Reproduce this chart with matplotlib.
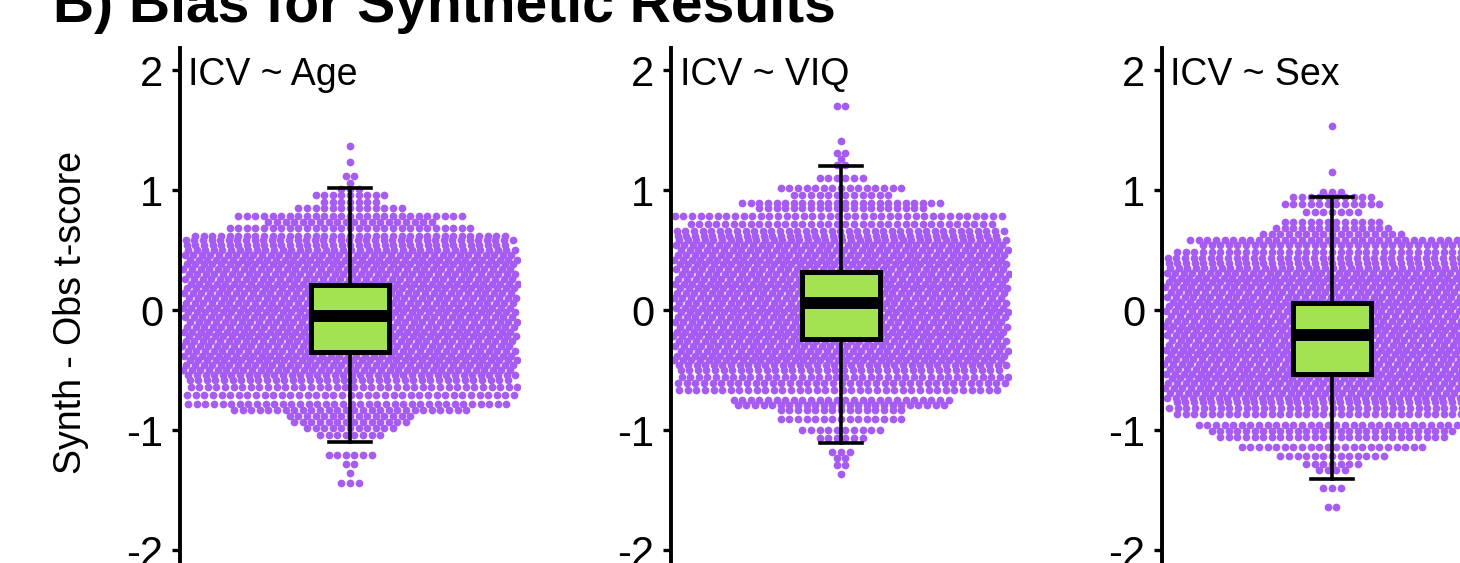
import matplotlib
matplotlib.use("Agg")
import matplotlib.pyplot as plt
import numpy as np

plt.rcParams['font.family'] = ['Liberation Sans', 'DejaVu Sans']

# panel titles
panels = ["ICV ~ Age", "ICV ~ VIQ", "ICV ~ Sex"]

# swarm rows: y level of each row and how many dots in it
age_y = [1.37, 1.23, 1.12, 1.06, 1.01, 0.96, 0.90, 0.85, 0.78, 0.73, 0.68, 0.62, 0.58,
         0.54, 0.50, 0.46, 0.42, 0.38, 0.34, 0.30, 0.26, 0.22, 0.18, 0.14, 0.10, 0.06, 0.02,
         -0.02, -0.06, -0.10, -0.14, -0.18, -0.22, -0.26, -0.30, -0.34, -0.38, -0.42, -0.46,
         -0.50, -0.54, -0.58,
         -0.64, -0.71, -0.78, -0.83, -0.88, -0.93, -0.98, -1.04, -1.21, -1.28, -1.36, -1.44]
age_n = [1, 1, 2, 1, 3, 9, 7, 13, 27, 20, 29, 37, 39,
         38, 39, 39, 39, 39, 39, 39, 39, 39, 39, 39, 39, 39, 39,
         39, 39, 39, 39, 39, 39, 39, 39, 39, 39, 39, 39,
         39, 39, 38,
         39, 39, 38, 28, 15, 14, 11, 8, 6, 2, 1, 3]

viq_y = [1.70, 1.41, 1.31, 1.26, 1.21, 1.10, 1.02, 0.96, 0.89, 0.85, 0.78, 0.72, 0.66,
         0.62, 0.58, 0.54, 0.50, 0.46, 0.42, 0.38, 0.34, 0.30, 0.26, 0.22, 0.18, 0.14, 0.10,
         0.06, 0.02, -0.02, -0.06, -0.10, -0.14, -0.18, -0.22, -0.26, -0.30, -0.34, -0.38,
         -0.42, -0.46, -0.50,
         -0.56, -0.61, -0.67, -0.75, -0.79, -0.83, -0.91, -1.00, -1.07, -1.18, -1.23, -1.29, -1.37]
viq_n = [2, 1, 2, 1, 2, 6, 15, 12, 24, 20, 39, 36, 39,
         38, 39, 39, 39, 39, 39, 39, 39, 39, 39, 39, 39, 39, 39,
         39, 39, 39, 39, 39, 39, 39, 39, 39, 39, 39, 39,
         39, 39, 38,
         39, 39, 38, 26, 25, 15, 15, 10, 6, 3, 2, 2, 1]

sex_y = [1.53, 1.15, 0.98, 0.94, 0.88, 0.82, 0.73, 0.68, 0.63, 0.58, 0.54, 0.48, 0.43,
         0.39, 0.35, 0.31, 0.27, 0.23, 0.19, 0.15, 0.11, 0.07, 0.03, -0.01, -0.05, -0.09,
         -0.13, -0.17, -0.21, -0.25, -0.29, -0.33, -0.37, -0.41, -0.45, -0.49, -0.53, -0.57,
         -0.61, -0.65, -0.69, -0.73, -0.77,
         -0.82, -0.87, -0.96, -1.01, -1.06, -1.14, -1.22, -1.28, -1.33, -1.48, -1.64]
sex_n = [1, 1, 3, 10, 12, 7, 12, 14, 17, 34, 31, 37, 39,
         38, 39, 39, 39, 39, 39, 39, 39, 39, 39, 39, 39, 39,
         39, 39, 39, 39, 39, 39, 39, 39, 39, 39, 39, 39,
         39, 39, 39, 39, 38,
         39, 37, 32, 29, 27, 22, 13, 7, 4, 3, 2]

# box stats: whisker low, Q1, median, Q3, whisker high
age_box = [-1.10, -0.35, -0.05, 0.21, 1.02]
viq_box = [-1.11, -0.24, 0.06, 0.32, 1.20]
sex_box = [-1.41, -0.53, -0.21, 0.06, 0.94]

rows = [(age_y, age_n), (viq_y, viq_n), (sex_y, sex_n)]
boxes = [age_box, viq_box, sex_box]

purple = '#A65CF3'
green = '#A3E352'

W, H = 1460, 563
fig = plt.figure(figsize=(W / 100, H / 100), dpi=100)

ymin, ymax = -2.3, 2.18
px_per_unit = 120
ax_h = (ymax - ymin) * px_per_unit
ax_bottom = 550 + (-2 - ymin) * px_per_unit  # pixel row of ylim bottom
lefts = [180, 671, 1162]
ax_w = 340

dx = 8.6 / 170  # dot spacing in data units

for i in range(3):
    ax = fig.add_axes([lefts[i] / W, (H - ax_bottom) / H, ax_w / W, ax_h / H])
    ys, ns = rows[i]
    xs, yy = [], []
    for k, (y, n) in enumerate(zip(ys, ns)):
        off = (np.arange(n) - (n - 1) / 2) * dx
        if n >= 38:
            # stagger full rows so they don't line up in columns
            off = off + ((k * 0.618) % 1 - 0.5) * dx
        xs.extend(1 + off)
        yy.extend([y] * n)
    ax.scatter(xs, yy, s=31, color=purple, linewidths=0, zorder=1)

    lo, q1, med, q3, hi = boxes[i]
    stats = [dict(whislo=lo, q1=q1, med=med, q3=q3, whishi=hi)]
    ax.bxp(stats, positions=[1], widths=0.46, showfliers=False, patch_artist=True,
           capwidths=0.25,
           boxprops=dict(facecolor=green, edgecolor='black', linewidth=3.6),
           medianprops=dict(color='black', linewidth=8.6, solid_capstyle='butt'),
           whiskerprops=dict(color='black', linewidth=2.6),
           capprops=dict(color='black', linewidth=2.6))
    for art in ax.patches + ax.lines:
        art.set_zorder(3)

    ax.set_xlim(0, 2)
    ax.set_ylim(ymin, ymax)
    ax.set_yticks([-2, -1, 0, 1, 2])
    ax.set_yticklabels(['-2', '-1', '0', '1', '2'])
    ax.set_xticks([])
    for s in ['top', 'right', 'bottom']:
        ax.spines[s].set_visible(False)
    ax.spines['left'].set_linewidth(2.8)
    ax.tick_params(axis='y', length=6, width=2.4, labelsize=30, pad=6, colors='black')
    ax.patch.set_alpha(0)
    ax.text(0.05, 1.875, panels[i], fontsize=27, va='baseline', ha='left')

fig.text(71 / W, (H - 312) / H, 'Synth - Obs t-score', rotation=90, fontsize=27,
         ha='center', va='center')
fig.text(53 / W, (H - 22) / H, 'B) Bias for Synthetic Results', fontsize=41,
         fontweight='bold', ha='left', va='baseline')

fig.savefig('out.png', dpi=100)
